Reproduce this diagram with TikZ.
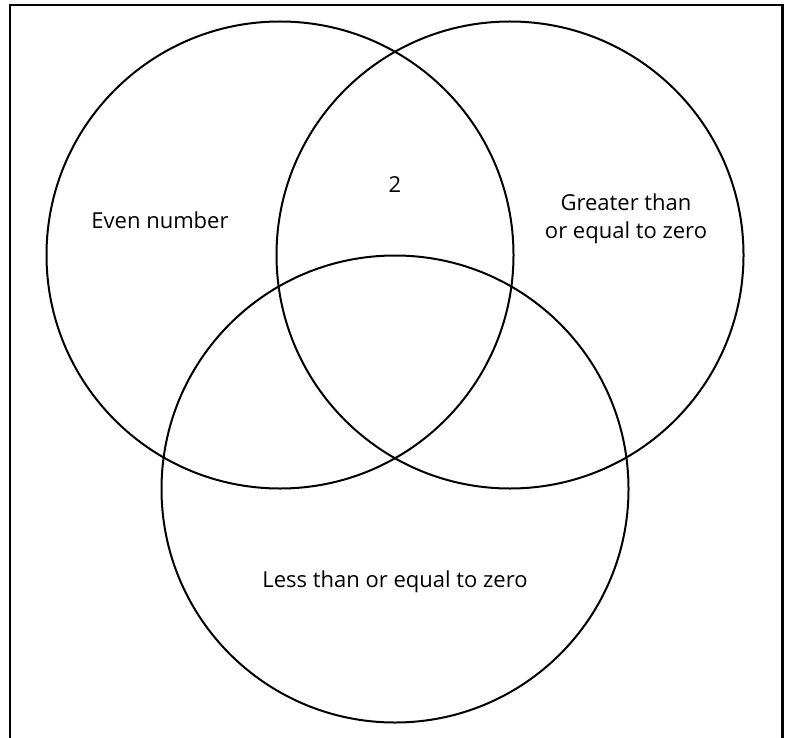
\documentclass[tikz,border=0pt]{standalone}
\usepackage{fontspec}
\setmainfont{Open Sans}
\tikzset{set/.style = {shape = circle, draw, line width = 2pt, minimum size = 467pt, inner sep = 0pt}}
\tikzset{settext/.style = {align = center, font = \fontsize{22}{28}\selectfont}}
\tikzset{frame/.style = {line width = 2.5pt, line cap = rect}}

\begin{document}
\begin{tikzpicture}[x = 1pt, y = -1pt]
			\useasboundingbox (0, 0) rectangle (789, 738);
			\draw[frame] (10, 740) |- (782.5, 5) -- (782.5, 740);

			\node[set] (even) at (280, 255) {};
			\node[set] (pos) at (510, 255) {};
			\node[set] (neg) at (395, 489) {};

			\node[settext] (t1) at (160, 220) {Even number};
			\node[settext] (t2) at (395, 185) {2};
			\node[settext] (t3) at (626, 219) {Greater than\\or equal to zero};
			\node[settext] (t4) at (395, 582) {Less than or equal to zero};
		\end{tikzpicture}
\end{document}
